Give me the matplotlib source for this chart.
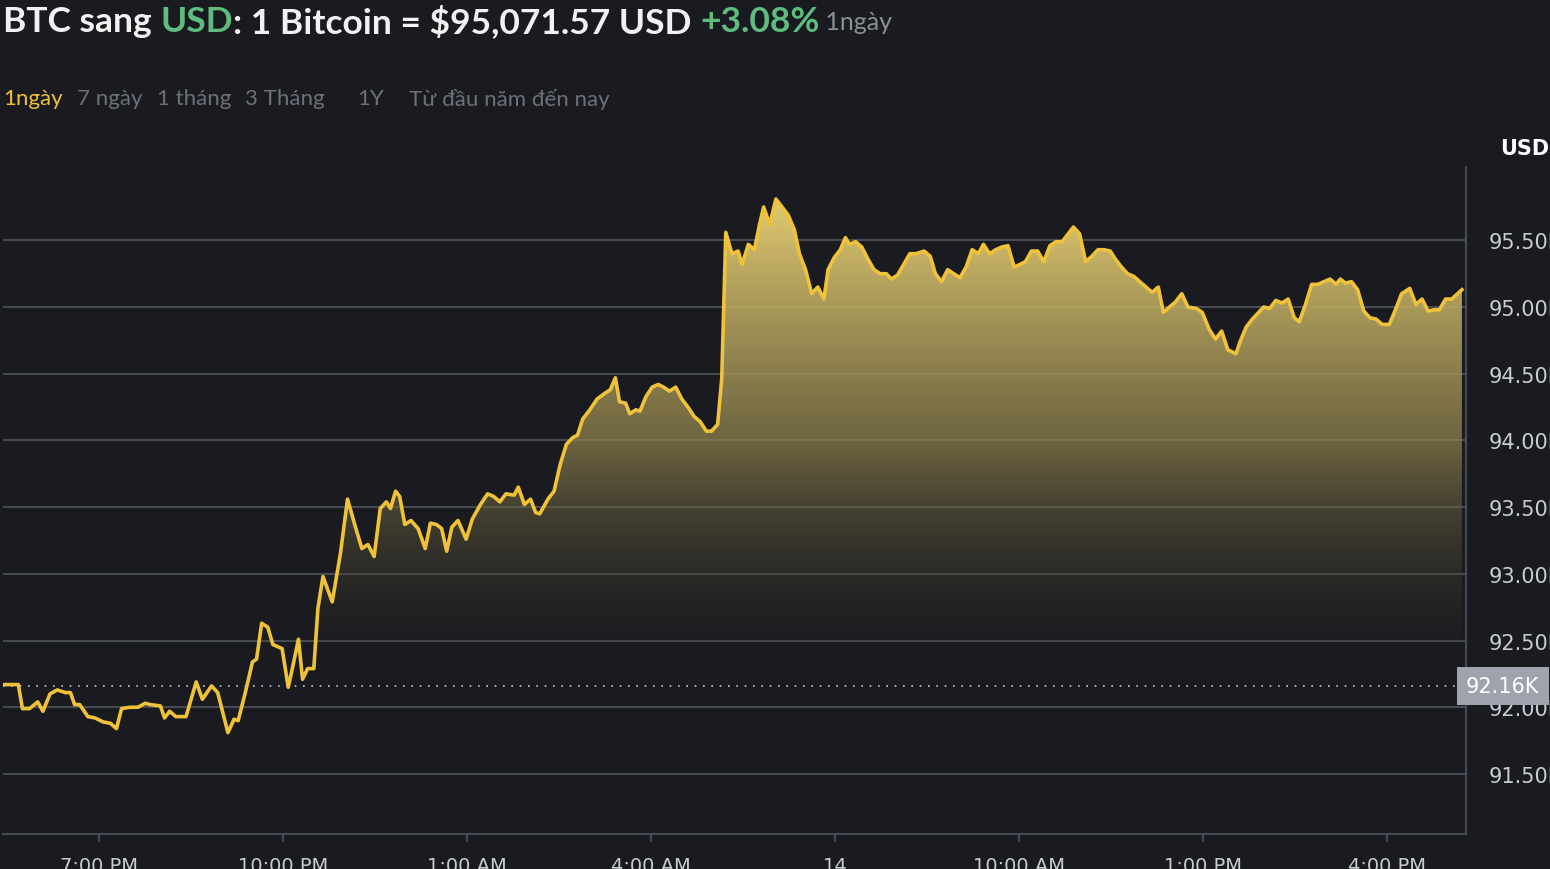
import matplotlib
matplotlib.use("Agg")
import matplotlib.pyplot as plt
import numpy as np
from matplotlib.path import Path
from matplotlib.patches import PathPatch
from matplotlib.colors import LinearSegmentedColormap

minutes = [0,15,19,26,34,39,46,53,61,66,70,75,83,90,98,105,111,116,124,132,139,144,154,158,163,169,179,189,195,204,210,220,226,230,237,244,248,253,259,264,273,279,283,289,293,298,304,308,313,322,330,337,344,351,357,363,369,375,379,384,388,393,399,406,413,418,424,429,434,439,445,453,459,467,474,480,486,492,500,504,510,516,521,525,533,539,545,551,557,562,567,574,581,588,594,599,603,609,613,619,623,629,635,641,646,652,658,664,670,676,682,688,693,699,703,707,713,719,723,729,735,740,744,750,756,762,768,774,779,785,791,797,803,807,813,819,824,828,834,840,846,852,858,864,869,875,881,887,893,901,907,912,918,924,930,936,942,948,954,959,965,971,977,983,989,995,1000,1006,1012,1018,1024,1030,1036,1042,1047,1053,1059,1065,1071,1077,1083,1088,1094,1100,1106,1112,1118,1124,1130,1135,1141,1147,1153,1159,1167,1173,1180,1186,1192,1198,1206,1210,1216,1222,1227,1233,1239,1245,1251,1257,1263,1268,1274,1280,1286,1292,1298,1304,1308,1313,1319,1325,1331,1337,1343,1349,1356,1362,1368,1376,1382,1388,1394,1400,1405,1411,1417,1427]
prices = [92.17,92.17,91.99,91.99,92.04,91.97,92.10,92.13,92.11,92.11,92.02,92.02,91.93,91.92,91.89,91.88,91.84,91.99,92.00,92.00,92.03,92.02,92.01,91.92,91.97,91.93,91.93,92.19,92.06,92.16,92.11,91.81,91.91,91.90,92.11,92.34,92.36,92.63,92.60,92.47,92.44,92.15,92.29,92.51,92.21,92.29,92.29,92.74,92.98,92.79,93.15,93.56,93.37,93.19,93.22,93.13,93.49,93.54,93.49,93.62,93.58,93.37,93.40,93.34,93.19,93.38,93.37,93.34,93.17,93.35,93.40,93.26,93.41,93.52,93.60,93.58,93.54,93.60,93.59,93.65,93.52,93.56,93.46,93.45,93.56,93.62,93.82,93.97,94.02,94.04,94.16,94.23,94.31,94.35,94.38,94.47,94.29,94.28,94.20,94.23,94.22,94.33,94.40,94.42,94.40,94.37,94.40,94.31,94.25,94.18,94.14,94.07,94.07,94.12,94.46,95.56,95.40,95.42,95.32,95.47,95.43,95.62,95.75,95.62,95.81,95.75,95.69,95.58,95.40,95.28,95.10,95.15,95.06,95.28,95.37,95.43,95.52,95.47,95.49,95.45,95.36,95.28,95.25,95.25,95.21,95.24,95.32,95.40,95.40,95.42,95.38,95.25,95.19,95.28,95.25,95.22,95.30,95.43,95.40,95.47,95.40,95.43,95.45,95.46,95.30,95.32,95.34,95.42,95.42,95.34,95.46,95.49,95.49,95.55,95.60,95.55,95.34,95.38,95.43,95.43,95.42,95.36,95.30,95.25,95.23,95.19,95.15,95.11,95.15,94.96,95.00,95.04,95.10,95.00,94.99,94.96,94.83,94.76,94.82,94.68,94.65,94.74,94.85,94.91,94.95,95.00,94.99,95.05,95.03,95.06,94.92,94.89,95.02,95.17,95.17,95.19,95.21,95.17,95.21,95.18,95.19,95.13,94.97,94.92,94.91,94.87,94.87,94.98,95.10,95.14,95.02,95.06,94.97,94.98,94.98,95.06,95.06,95.13]

tick_min = [94, 274, 454, 634, 814, 994, 1174, 1354]
tick_lab = ["7:00 PM", "10:00 PM", "1:00 AM", "4:00 AM", "14", "10:00 AM", "1:00 PM", "4:00 PM"]
y_ticks = [91.5, 92.0, 92.5, 93.0, 93.5, 94.0, 94.5, 95.0, 95.5]
base = 92.16

BG = "#1a1b20"
GRID = "#474a52"
LINE = "#f0c23a"

fig = plt.figure(figsize=(15.5, 8.7), dpi=100, facecolor=BG)
ax = fig.add_axes([3/1550, 35/870, 1463/1550, 667/870])
ax.set_facecolor(BG)
x0, x1 = 0, 1431
y0, y1 = 91.05, 96.05
ax.set_xlim(x0, x1)
ax.set_ylim(y0, y1)

for yt in y_ticks:
    ax.axhline(yt, color=GRID, lw=1.5, zorder=1)

x = np.array(minutes, float); y = np.array(prices, float)
yc = np.maximum(y, base)
verts = [(x[0], base)] + list(zip(x, yc)) + [(x[-1], base)]
patch = PathPatch(Path(verts), facecolor="none", edgecolor="none")
ax.add_patch(patch)
grad = np.linspace(0, 1, 256).reshape(-1, 1)
cmap = LinearSegmentedColormap.from_list("g", [(0.10, 0.106, 0.125, 0.0), (0.55, 0.50, 0.30, 0.75), (0.90, 0.81, 0.45, 1.0)])
im = ax.imshow(grad, extent=[x0, x1, base, 95.85], origin="lower", aspect="auto", cmap=cmap, zorder=2)
im.set_clip_path(patch)

ax.plot(minutes, prices, color=LINE, lw=2.6, zorder=4, solid_joinstyle="round")
ax.axhline(base, color="#c8cad0", lw=1.2, ls=(0, (1, 4)), zorder=3)

for s in ["top", "left"]:
    ax.spines[s].set_visible(False)
for s in ["right", "bottom"]:
    ax.spines[s].set_color(GRID); ax.spines[s].set_linewidth(1.5)
ax.yaxis.tick_right()
ax.set_yticks(y_ticks)
ax.set_yticklabels([f"{v:.2f}K" for v in y_ticks])
ax.tick_params(axis="y", length=0, pad=16, labelsize=15, labelcolor="#c9ccd3")
ax.set_xticks(tick_min)
ax.set_xticklabels(tick_lab)
ax.tick_params(axis="x", length=6, width=1.5, color=GRID, pad=10, labelsize=14, labelcolor="#c9ccd3")

ax.text(1.0, (base - y0) / (y1 - y0), f"{base:.2f}K", transform=ax.transAxes, ha="left", va="center",
        fontsize=15, color="white", bbox=dict(boxstyle="square,pad=0.45", fc="#9ea3ad", ec="none"), zorder=6)

fig.text(1525/1550, 1 - 149/870, "USD", ha="center", va="center", fontsize=15, fontweight="bold", color="white")

parts = [("BTC sang ", "#f2f2f2", 25.5, "bold"), ("USD", "#5ebd7e", 25.5, "bold"), (": 1 Bitcoin = $95,071.57 USD ", "#f2f2f2", 25.5, "bold"),
         ("+3.08%", "#5ebd7e", 25.5, "bold"), (" 1ngày", "#8c8f96", 18, "normal")]
fig.canvas.draw()
r = fig.canvas.get_renderer()
xp = 3
for t, c, s, w in parts:
    tx = fig.text(xp/1550, 1 - 22/870, t, color=c, fontsize=s, fontweight=w, va="center", ha="left", family="Lato")
    xp += tx.get_window_extent(r).width
btns = [("1ngày", "#f0c23a", 3), ("7 ngày", "#6d7078", 77), ("1 tháng", "#6d7078", 157), ("3 Tháng", "#6d7078", 245),
        ("1Y", "#6d7078", 357), ("Từ đầu năm đến nay", "#6d7078", 409)]
for t, c, px in btns:
    fig.text(px/1550, 1 - 99/870, t, color=c, fontsize=16, va="center", ha="left", family="Lato")

fig.savefig("out.png", dpi=100, facecolor=BG)
